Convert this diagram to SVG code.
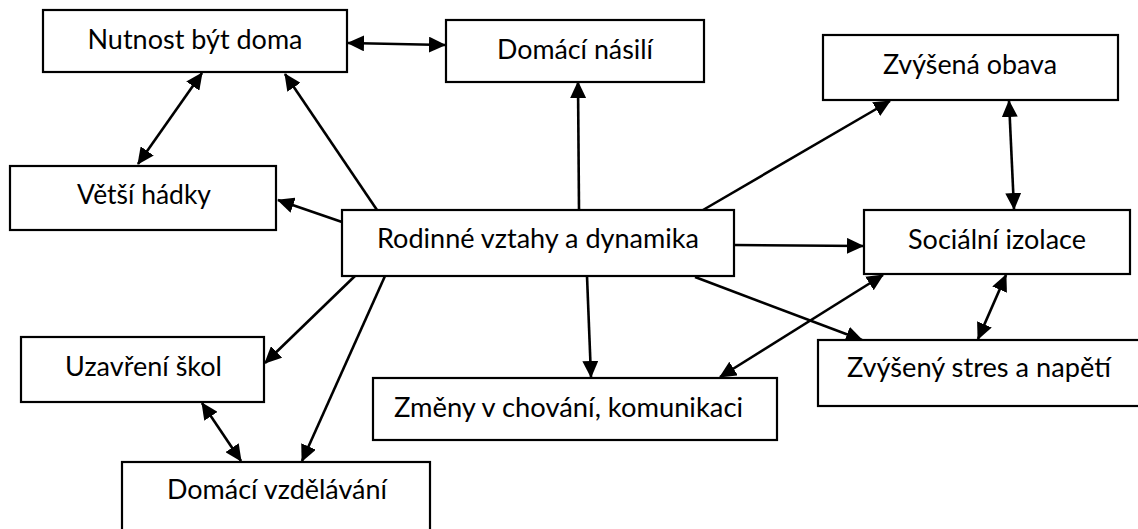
<svg xmlns="http://www.w3.org/2000/svg" width="1138" height="529" viewBox="0 0 1138 529">
  <style>
    .box { fill: #ffffff; stroke: #000000; stroke-width: 2.2; }
    .lbl { font-family: "Lato", "Open Sans", "Liberation Sans", sans-serif; font-size: 27px; fill: #000000; }
    .mid { text-anchor: middle; }
    .edge { fill: none; stroke: #000000; stroke-width: 2.6; marker-end: url(#head); }
    .both { marker-start: url(#head); }
  </style>
  <defs>
    <marker id="head" markerUnits="userSpaceOnUse" markerWidth="17" markerHeight="16" viewBox="0 0 17 16" refX="16" refY="8" orient="auto-start-reverse">
      <path d="M0,0 L17,8 L0,16 Z" fill="#000000"/>
    </marker>
  </defs>

  <rect width="1138" height="529" fill="#ffffff"/>

  <!-- connectors -->
  <g id="connectors">
    <line class="edge both" x1="348" y1="43" x2="445" y2="45"/>
    <line class="edge both" x1="202" y1="73" x2="138" y2="164"/>
    <line class="edge" x1="377" y1="210" x2="285" y2="74"/>
    <line class="edge" x1="342" y1="222" x2="278" y2="200"/>
    <line class="edge" x1="579" y1="210" x2="578" y2="82"/>
    <line class="edge" x1="703" y1="210" x2="890" y2="101"/>
    <line class="edge both" x1="1009" y1="101" x2="1014" y2="209"/>
    <line class="edge" x1="734" y1="245" x2="863" y2="246"/>
    <line class="edge" x1="695" y1="277" x2="862" y2="340"/>
    <line class="edge both" x1="720" y1="377" x2="883" y2="275"/>
    <line class="edge both" x1="1006" y1="275" x2="978" y2="339"/>
    <line class="edge" x1="587" y1="276" x2="591" y2="377"/>
    <line class="edge" x1="356" y1="275" x2="265" y2="363"/>
    <line class="edge" x1="385" y1="276" x2="302" y2="461"/>
    <line class="edge both" x1="202" y1="403" x2="241" y2="461"/>
  </g>

  <g id="nutnost">
    <rect class="box" x="43" y="10" width="304" height="62"/>
    <text class="lbl mid" x="195" y="49" textLength="215" lengthAdjust="spacingAndGlyphs">Nutnost být doma</text>
  </g>

  <g id="domaci-nasili">
    <rect class="box" x="446" y="20" width="258" height="62"/>
    <text class="lbl mid" x="575" y="59" textLength="156" lengthAdjust="spacingAndGlyphs">Domácí násilí</text>
  </g>

  <g id="zvysena-obava">
    <rect class="box" x="823" y="35" width="295" height="65"/>
    <text class="lbl mid" x="970" y="74" textLength="174" lengthAdjust="spacingAndGlyphs">Zvýšená obava</text>
  </g>

  <g id="vetsi-hadky">
    <rect class="box" x="10" y="166" width="266" height="64"/>
    <text class="lbl mid" x="144" y="204" textLength="134" lengthAdjust="spacingAndGlyphs">Větší hádky</text>
  </g>

  <g id="rodinne-vztahy">
    <rect class="box" x="342" y="210" width="392" height="66"/>
    <text class="lbl mid" x="538" y="248" textLength="322" lengthAdjust="spacingAndGlyphs">Rodinné vztahy a dynamika</text>
  </g>

  <g id="socialni-izolace">
    <rect class="box" x="864" y="210" width="266" height="64"/>
    <text class="lbl mid" x="997" y="249" textLength="178" lengthAdjust="spacingAndGlyphs">Sociální izolace</text>
  </g>

  <g id="zvyseny-stres">
    <rect class="box" x="818" y="340" width="330" height="66"/>
    <text class="lbl" x="847" y="377" textLength="264" lengthAdjust="spacingAndGlyphs">Zvýšený stres a napětí</text>
  </g>

  <g id="uzavreni-skol">
    <rect class="box" x="21" y="337" width="243" height="65"/>
    <text class="lbl mid" x="143.5" y="376" textLength="157" lengthAdjust="spacingAndGlyphs">Uzavření škol</text>
  </g>

  <g id="zmeny">
    <rect class="box" x="373" y="378" width="404" height="62"/>
    <text class="lbl" x="394" y="417" textLength="349" lengthAdjust="spacingAndGlyphs">Změny v chování, komunikaci</text>
  </g>

  <g id="domaci-vzdelavani">
    <rect class="box" x="122" y="462" width="308" height="72"/>
    <text class="lbl mid" x="277" y="499" textLength="220" lengthAdjust="spacingAndGlyphs">Domácí vzdělávání</text>
  </g>
</svg>
